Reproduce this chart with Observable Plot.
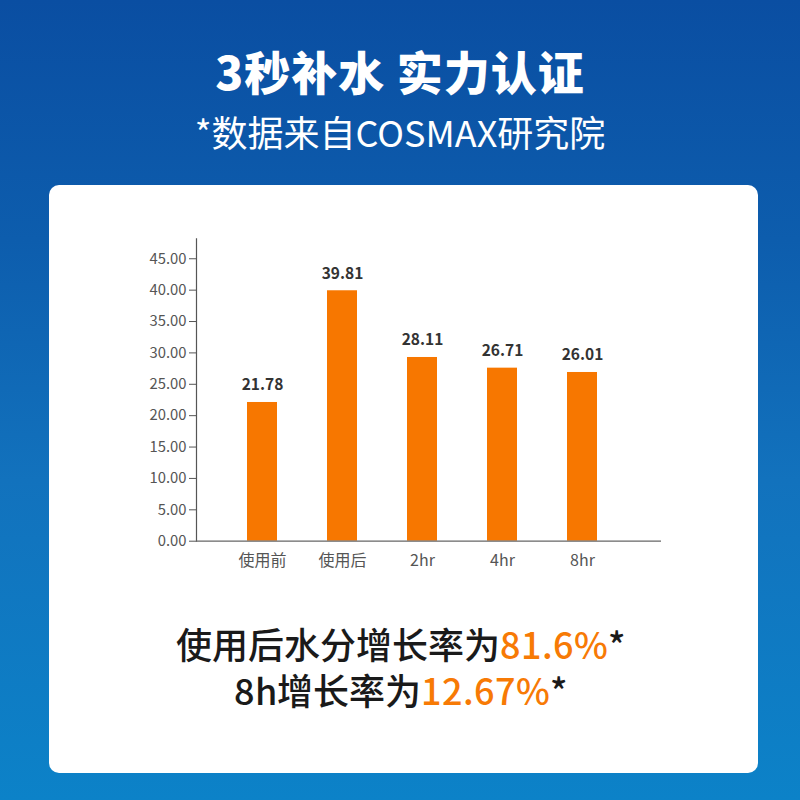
<!DOCTYPE html>
<html>
<head>
<meta charset="utf-8">
<script src="https://cdn.jsdelivr.net/npm/d3@7"></script>
<script src="https://cdn.jsdelivr.net/npm/@observablehq/plot@0.6"></script>
<style>
  @font-face {
    font-family: "CapSans";
    src: local("Noto Sans CJK SC Medium"), local("NotoSansCJKsc-Medium"), local("Noto Sans CJK SC");
    font-weight: 500;
    ascent-override: 92%;
    descent-override: 22%;
    line-gap-override: 0%;
  }
  html, body { margin: 0; padding: 0; }
  body {
    width: 800px; height: 800px; overflow: hidden; position: relative;
    background: linear-gradient(180deg, #0a4ea2 0%, #0d5dad 30%, #1272bd 60%, #0c82c8 100%);
    font-family: "Noto Sans CJK SC", "Noto Sans", sans-serif;
  }
  .line { position: absolute; left: 0; width: 800px; text-align: center; white-space: nowrap; }
  #title { top: 44px; height: 52px; line-height: 52px; color: #fff; font-size: 46px; font-weight: 900; letter-spacing: 1px; }
  #subtitle { top: 110px; height: 42px; line-height: 42px; color: #fff; font-size: 36px; font-weight: 400; }
  #card {
    position: absolute; left: 49px; top: 185px; width: 709px; height: 588px;
    background: #fff; border-radius: 10px;
  }
  #chart { position: absolute; left: 128px; top: 230px; }
  .cap { color: #1a1a1a; font-family: "CapSans", "Noto Sans CJK SC", sans-serif; font-size: 36px; font-weight: 500; height: 44px; line-height: 44px; }
  #cap1 { top: 625px; }
  #cap2 { top: 671px; }
  .hl { color: #f77a05; }
</style>
</head>
<body>
<div id="title" class="line">3秒补水 实力认证</div>
<div id="subtitle" class="line">*数据来自COSMAX研究院</div>
<div id="card"></div>
<div id="chart"></div>
<div id="cap1" class="line cap">使用后水分增长率为<span class="hl">81.6%</span>*</div>
<div id="cap2" class="line cap">8h增长率为<span class="hl">12.67%</span>*</div>
<script>
const categories = ["使用前", "使用后", "2hr", "4hr", "8hr"];
// bar heights as drawn in the picture
const barValues = [22.1, 39.9, 29.27, 27.57, 26.88];
// value labels printed above the bars
const valueLabels = ["21.78", "39.81", "28.11", "26.71", "26.01"];
const yTicks = [0, 5, 10, 15, 20, 25, 30, 35, 40, 45];

const data = categories.map((c, i) => ({cat: c, value: barValues[i], label: valueLabels[i]}));

const font = "'Noto Sans CJK SC', 'Noto Sans', sans-serif";

const chart = Plot.plot({
  width: 552,
  height: 345,
  marginLeft: 68,
  marginRight: 19,
  marginTop: 8.3,
  marginBottom: 34.3,
  style: {fontFamily: font, background: "transparent", overflow: "visible"},
  x: {domain: categories, padding: 0.63, paddingOuter: 0.69, align: 0.44, label: null},
  y: {domain: [0, 48.18], label: null},
  marks: [
    Plot.barY(data, {x: "cat", y: "value", fill: "#f77700"}),
    Plot.text(data, {x: "cat", y: "value", text: "label", dy: -17, fontSize: 15.5, fontWeight: 700, fill: "#333"}),
    Plot.axisY({ticks: yTicks, tickFormat: d => d.toFixed(2), tickSize: 7, tickPadding: 3, fontSize: 14.8, color: "#555", stroke: "#555", label: null}),
    Plot.axisX({tickSize: 0, tickPadding: 13, fontSize: 16, color: "#555", label: null}),
    Plot.frame({anchor: "left", stroke: "#555", strokeWidth: 1.2}),
    Plot.ruleY([0], {stroke: "#666", strokeWidth: 1.2})
  ]
});
document.getElementById("chart").appendChild(chart);
</script>
</body>
</html>
